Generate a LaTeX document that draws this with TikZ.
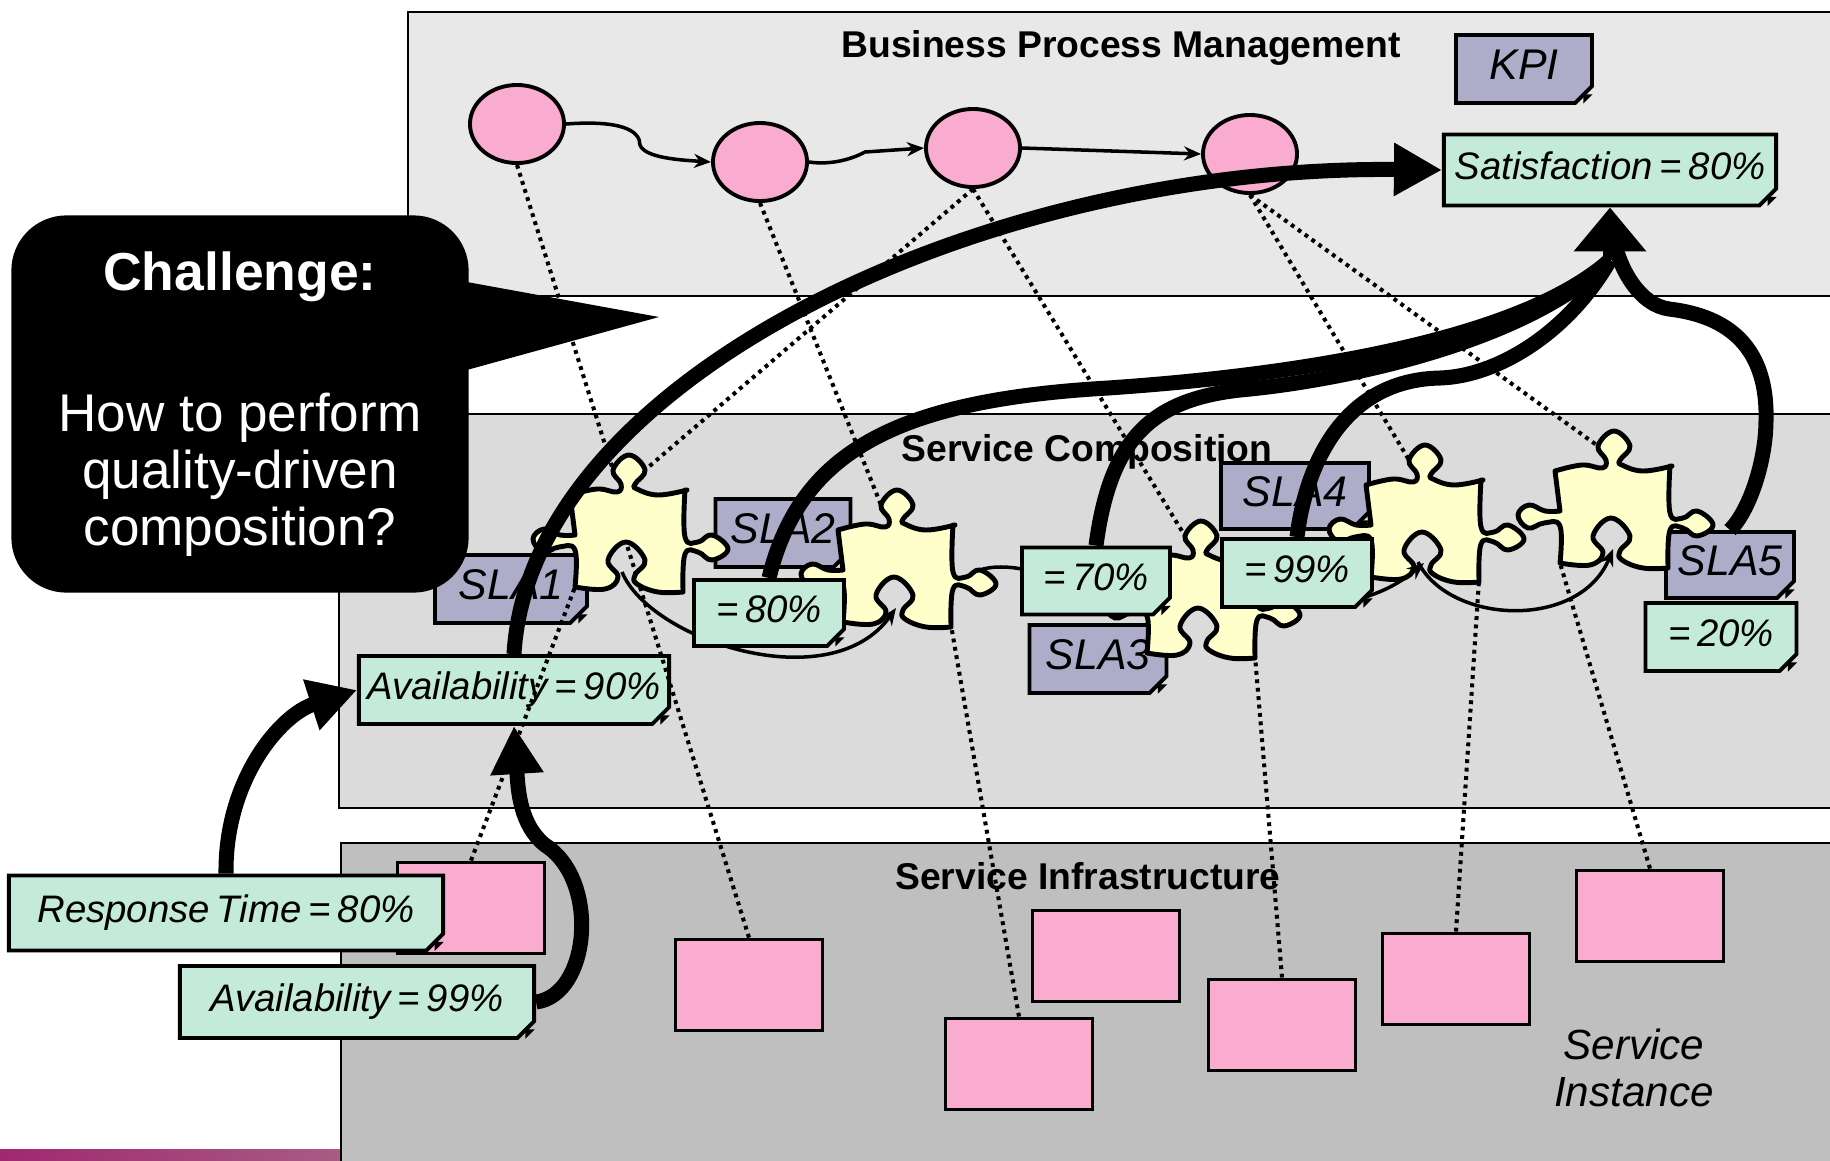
\documentclass[tikz,border=0pt]{standalone}
\usepackage{fontspec}
\setmainfont{Liberation Sans}
\usetikzlibrary{arrows.meta,shapes.geometric,shapes.misc}
\definecolor{pinkfill}{HTML}{F9ACD0}
\definecolor{greenfill}{HTML}{C4EBD9}
\definecolor{slafill}{HTML}{ADADCA}
\definecolor{piecefill}{HTML}{FFFFCC}
\definecolor{barl}{HTML}{A02870}
\definecolor{barr}{HTML}{A85C84}
\tikzset{
  lab/.style={font=\fontsize{10.6}{12}\selectfont\bfseries, inner sep=0pt},
  foldbox/.style={draw, line width=1.1pt, chamfered rectangle, chamfered rectangle corners=south east,
    chamfered rectangle xsep=2.4pt, chamfered rectangle ysep=2.4pt, inner sep=0pt,
    append after command={\pgfextra{\let\LN\tikzlastnode
      \path (\LN.south -| \LN.east) coordinate (fc);
      \fill ([xshift=-3pt,yshift=0.4pt]fc) -- ([xshift=-3pt,yshift=3pt]fc) -- ([xshift=-0.4pt,yshift=3pt]fc) -- cycle;}}},
  metric/.style={foldbox, fill=greenfill, text height=8pt, text depth=2.5pt,
    font=\fontsize{10.9}{12}\selectfont\itshape, execute at begin node={\spaceskip=0.18em\relax}},
  sla/.style={foldbox, fill=slafill, text height=8.6pt, text depth=2.5pt, font=\fontsize{12.2}{14}\selectfont\itshape},
  svc/.style={draw, line width=1.1pt, fill=pinkfill, minimum width=1.47cm, minimum height=0.91cm, inner sep=0pt},
  task/.style={draw, line width=1.1pt, fill=pinkfill, ellipse, minimum width=0.94cm, minimum height=0.78cm, inner sep=0pt},
  link/.style={line width=1.15pt, dash pattern=on 1.1pt off 1.3pt},
  flow/.style={line width=1pt, -{Stealth[length=0.17cm, width=0.14cm]}},
  shaft/.style={line width=0.15cm},
  fat/.style={shaft, -{Triangle[length=0.48cm, width=0.5cm]}},
  fathead/.style={shaft, -{Triangle[length=0.44cm, width=0.7cm]}},
  piece/.pic={
    \draw[line width=1.4pt, fill=piecefill, line join=round]
      plot[smooth, tension=0.7] coordinates {(-56,-47) (-29,-53) (-9,-50) (-5,-58) (-13,-72) (3,-87) (19,-72) (9,-58) (11,-53) (32,-47) (61,-52)}
      -- plot[smooth, tension=0.7] coordinates {(59,-52) (59,-5) (72,0) (86,-7) (102,7) (86,18) (72,10) (59,12) (57,48)}
      -- plot[smooth, tension=0.7] coordinates {(57,50) (32,50) (11,42) (9,33) (19,18) (0,0) (-18,18) (-8,35) (-21,47) (-51,45)}
      -- plot[smooth, tension=0.7] coordinates {(-51,45) (-51,8) (-67,5) (-83,10) (-93,-3) (-82,-13) (-66,-7) (-51,-7)}
      -- cycle;
    \coordinate (-rtab) at (86,-7);
    \coordinate (-ltab) at (-83,10);
    \coordinate (-low) at (2,31);
    \coordinate (-side) at (-4,30);
  }
}
\begin{document}
\begin{tikzpicture}[x=0.01cm, y=-0.01cm, black, thick, >=Stealth]
  \newcommand\XR{1850}
  \useasboundingbox (0,0) rectangle (1830,1160);
  \fill[white] (0,0) rectangle (1830,1160);
  \shade[left color=barl, right color=barr] (0,1149) rectangle (341,1160);
  \draw[line width=0.6pt, fill=black!9] (408,12) rectangle (\XR,296);
  \draw[line width=0.6pt, fill=black!14] (339,414) rectangle (\XR,808);
  \draw[line width=0.6pt, fill=black!25] (341,843) rectangle (\XR,1180);
  \node[lab] (Tbpm) at (1121,48) {Business Process Management};
  \node[lab] (Tcomp) at (1087,452) {Service Composition};
  \node[lab] (Tinfra) at (1088,876) {Service Infrastructure};
  \node[align=center, inner sep=0pt, font=\fontsize{12}{13.3}\selectfont\itshape] (Tinst) at (1634,1068) {Service\\Instance};

  \node[task] (E1) at (517,124) {};
  \node[task] (E2) at (760,162) {};
  \node[task] (E3) at (973,148) {};
  \node[task] (E4) at (1250,154) {};
  \node[svc] (R1) at (471,908) {};
  \node[svc] (R2) at (749,985) {};
  \node[svc] (R3) at (1106,956) {};
  \node[svc] (R4) at (1019,1064) {};
  \node[svc] (R5) at (1282,1025) {};
  \node[svc] (R6) at (1456,979) {};
  \node[svc] (R7) at (1650,916) {};
  \draw[flow] (E1.east) .. controls (620,120) and (640,130) .. (640,145) .. controls (645,158) and (680,160) .. (E2.west);
  \draw[flow] (E2.east) .. controls (830,165) and (850,160) .. (865,152) -- (E3.west);
  \draw[flow] (E3.east) -- (E4.west);

  \node[sla, minimum width=1.36cm, minimum height=0.68cm] (KPI) at (1524,69) {KPI};
  \node[metric, minimum width=3.32cm, minimum height=0.71cm] (Sat) at (1610,170) {Satisfaction = 80\%};
  \node[metric, minimum width=1.51cm, minimum height=0.68cm] (N20) at (1721,637) {= 20\%};

  \node[sla, minimum width=1.52cm, minimum height=0.68cm] (SLA1) at (511,589) {SLA1};
  \node[sla, minimum width=1.35cm, minimum height=0.68cm] (SLA2) at (783,533) {SLA2};
  \node[sla, minimum width=1.37cm, minimum height=0.68cm] (SLA3) at (1098,659) {SLA3};
  \node[sla, minimum width=1.48cm, minimum height=0.66cm] (SLA4) at (1295,496) {SLA4};
  \node[sla, minimum width=1.28cm, minimum height=0.66cm] (SLA5) at (1730,565) {SLA5};
  \node[metric, minimum width=3.10cm, minimum height=0.68cm] (A90) at (514,690) {Availability = 90\%};
  \draw[shaft] (SLA5.north) .. controls (1750,510) and (1766,460) .. (1766,420) .. controls (1768,340) and (1720,315) .. (1669,309) .. controls (1640,305) and (1620,270) .. (1614,240);

  \coordinate (P1a) at (613,470);
  \coordinate (P1b) at (645,470);
  \coordinate (P1c) at (575,587);
  \coordinate (P1d) at (626,542);
  \coordinate (P2a) at (881,505);
  \coordinate (P2b) at (951,625);
  \coordinate (P3a) at (1185,536);
  \coordinate (P3b) at (1255,656);
  \coordinate (P4a) at (1409,460);
  \coordinate (P4b) at (1479,580);
  \coordinate (P5a) at (1598,446);
  \coordinate (P5b) at (1560,563);
  \draw[link] (E1.south) -- (P1a);
  \draw[link] (E2.south) -- (P2a);
  \draw[link] (E3.south) -- (P1b);
  \draw[link] (E3.south) -- (P3a);
  \draw[link] (E4.south) -- (P4a);
  \draw[link] (E4.south) -- (P5a);
  \draw[link] (R1.north) -- (P1c);
  \draw[link] (R2.north) -- (P1d);
  \draw[link] (R4.north) -- (P2b);
  \draw[link] (R5.north) -- (P3b);
  \draw[link] (R6.north) -- (P4b);
  \draw[link] (R7.north) -- (P5b);

  \pic (P1) at (626,542) {piece};
  \pic (P2) at (894,577) {piece};
  \pic (P3) at (1198,608) {piece};
  \pic (P4) at (1422,532) {piece};
  \pic (P5) at (1611,518) {piece};
  \draw[flow] (P1-side) .. controls (650,640) and (830,700) .. (P2-low);
  \draw[flow] (P2-rtab) .. controls (1000,563) and (1050,565) .. (P3-ltab);
  \draw[flow] (P3-rtab) .. controls (1330,610) and (1380,600) .. (P4-low);
  \draw[flow] (P4-side) .. controls (1450,625) and (1580,630) .. (P5-low);

  \node[metric, minimum width=1.50cm, minimum height=0.66cm] (N80) at (769,613) {= 80\%};
  \node[metric, minimum width=1.48cm, minimum height=0.67cm] (N70) at (1096,581) {= 70\%};
  \node[metric, minimum width=1.50cm, minimum height=0.68cm] (N99) at (1297,573) {= 99\%};
  \node[metric, minimum width=4.34cm, minimum height=0.75cm] (RT) at (226,913) {Response Time = 80\%};
  \node[metric, minimum width=3.54cm, minimum height=0.72cm] (A99) at (357,1002) {Availability = 99\%};

  \coordinate (Shead) at (1610,260);
  \draw[fat] (A90.north) .. controls (530,380) and (980,165) .. (Sat.west);
  \draw[shaft] (N80.north) .. controls (800,450) and (900,400) .. (1108,388) .. controls (1300,375) and (1520,340) .. (Shead);
  \draw[shaft] (N70.north) .. controls (1110,440) and (1150,400) .. (1240,390) .. controls (1350,380) and (1530,340) .. (Shead);
  \draw[shaft] (N99.north) .. controls (1305,470) and (1340,380) .. (1440,378) .. controls (1500,376) and (1570,330) .. (Shead);
  \draw[fathead] (Shead) -- (Sat.south);
  \draw[fat] (RT.north) .. controls (225,780) and (280,715) .. (A90.west);
  \draw[fat] (A99.east) .. controls (590,995) and (600,880) .. (545,845) .. controls (520,825) and (518,790) .. (A90.south);

  \node[fill=black, text=white, rounded corners=0.55cm, minimum width=4.57cm, minimum height=3.77cm, inner sep=0pt, align=center,
    font=\fontsize{15.1}{16.2}\selectfont] (Chal) at (240,404)
    {{\bfseries\fontsize{15.2}{16.2}\selectfont Challenge:}\\[24pt]How to perform\\quality-driven\\composition?};
  \coordinate (Ctip) at (659,317);
  \fill ([xshift=-4pt]Chal.east |- 0,280) -- (Ctip) -- ([xshift=-4pt]Chal.east |- 0,373) -- cycle;
\end{tikzpicture}
\end{document}
